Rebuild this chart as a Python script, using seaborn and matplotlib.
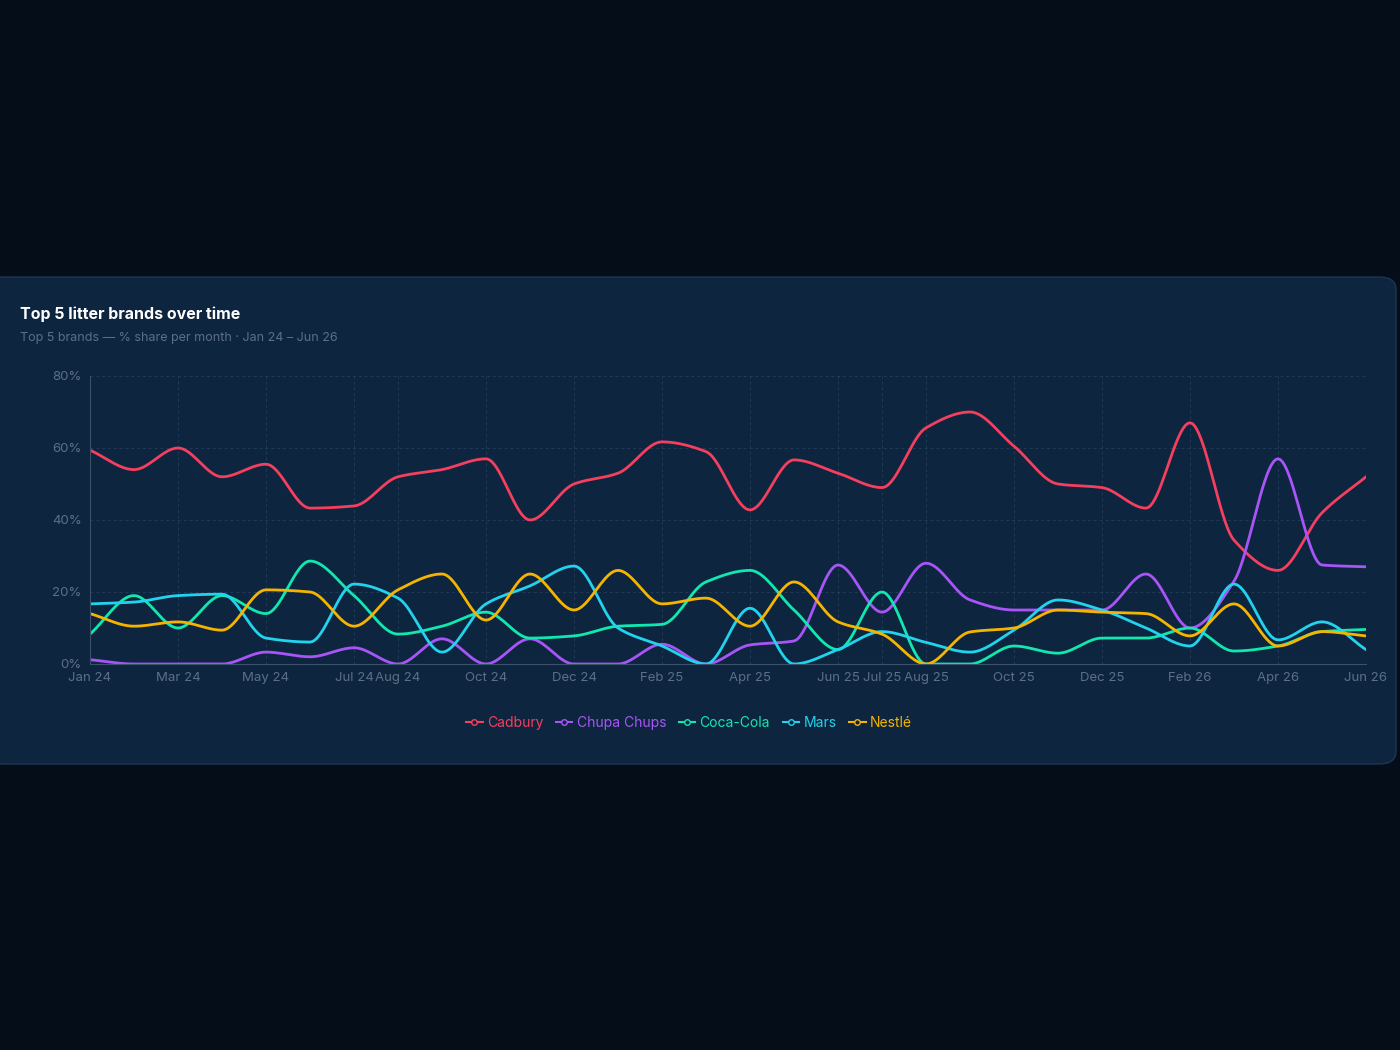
import numpy as np
import pandas as pd
import matplotlib
matplotlib.use("Agg")
import matplotlib.pyplot as plt
from matplotlib.patches import FancyBboxPatch
from matplotlib.lines import Line2D
import seaborn as sns

months = ["Jan 24","Feb 24","Mar 24","Apr 24","May 24","Jun 24","Jul 24","Aug 24","Sep 24","Oct 24",
          "Nov 24","Dec 24","Jan 25","Feb 25","Mar 25","Apr 25","May 25","Jun 25","Jul 25","Aug 25",
          "Sep 25","Oct 25","Nov 25","Dec 25","Jan 26","Feb 26","Mar 26","Apr 26","May 26","Jun 26"]
tick_labels = ["Jan 24","Mar 24","May 24","Jul 24","Aug 24","Oct 24","Dec 24","Feb 25","Apr 25",
               "Jun 25","Jul 25","Aug 25","Oct 25","Dec 25","Feb 26","Apr 26","Jun 26"]
cadbury = [59.4,54,60,52,55.5,43.3,43.9,52,54,57,40,50,53,61.7,59,42.8,56.7,53,49,65.6,
           70,60.5,50,49,43.3,67,34.4,26,42,52]
chupa = [1.2,0,0,0,3.3,2,4.5,0,7,0,7,0,0,5.5,0,5.3,6.4,27.5,14.4,28,
         17.8,15,15,15,25,10,23,57,27.5,27]
coca = [8.3,19,10,19,14,28.6,19,8.3,10.5,14.4,7.2,7.8,10.5,11,22.8,26,15,4,20,0,
        0,5,3,7.2,7.2,10,3.6,5,9,9.6]
mars = [16.7,17.2,19,19.4,7.2,6.1,22.2,18.3,3.3,16.7,21.7,27.2,10,5,0,15.5,0,4,9,6,
        3.3,9.4,17.8,15,10,5,22.2,6.7,11.7,4]
nestle = [14,10.5,11.7,9.4,20.6,20,10.5,20.6,25,12.2,25,15,26,16.7,18.3,10.5,22.8,11.7,8.3,0,
          8.9,10,15,14.4,14,7.8,16.7,5,9,7.8]
brands = ["Cadbury","Chupa Chups","Coca-Cola","Mars","Nestlé"]
colors = ["#f43f5e","#a855f7","#10e8b0","#22d3ee","#f5b400"]

plt.rcParams['font.family'] = ['Inter', 'DejaVu Sans']

def monotone(x, y, n=20):
    x = np.asarray(x, float); y = np.asarray(y, float)
    h = np.diff(x); d = np.diff(y) / h
    m = np.zeros_like(y)
    m[0], m[-1] = d[0], d[-1]
    for i in range(1, len(y) - 1):
        if d[i-1] * d[i] > 0:
            m[i] = (d[i-1] * d[i] * 2) / (d[i-1] + d[i])
    xs, ys = [], []
    for i in range(len(x) - 1):
        t = np.linspace(0, 1, n, endpoint=False)
        h00 = 2*t**3 - 3*t**2 + 1; h10 = t**3 - 2*t**2 + t
        h01 = -2*t**3 + 3*t**2; h11 = t**3 - t**2
        xs.append(x[i] + t*h[i])
        ys.append(h00*y[i] + h10*h[i]*m[i] + h01*y[i+1] + h11*h[i]*m[i+1])
    xs.append([x[-1]]); ys.append([y[-1]])
    return np.concatenate(xs), np.concatenate(ys)

frames = []
for b, vals in zip(brands, [cadbury, chupa, coca, mars, nestle]):
    xs, ys = monotone(range(len(months)), vals)
    frames.append(pd.DataFrame({"x": xs, "y": ys, "brand": b}))
df = pd.concat(frames)

bg = "#050d18"; card = "#0e2540"
fig = plt.figure(figsize=(14, 10.5), dpi=100, facecolor=bg)
fig.patches.append(FancyBboxPatch((-0.01, 1 - 764/1050), 1396/1400 + 0.01, 487/1050,
                                  boxstyle="round,pad=0,rounding_size=0.012",
                                  transform=fig.transFigure, facecolor=card,
                                  edgecolor="#1c3652", linewidth=1, zorder=-5))
ax = fig.add_axes([90/1400, 1 - 664/1050, (1366-90)/1400, (664-376)/1050])
ax.set_zorder(3)
ax.set_facecolor("none")
sns.lineplot(data=df, x="x", y="y", hue="brand", palette=dict(zip(brands, colors)),
             ax=ax, linewidth=2, legend=False, sort=False, estimator=None)
ax.set_xlim(0, 29)
ax.set_ylim(0, 80)
tick_pos = [months.index(t) for t in tick_labels]
ax.set_xticks(tick_pos)
ax.set_xticklabels(tick_labels)
ax.set_yticks([0, 20, 40, 60, 80])
ax.set_yticklabels(["0%", "20%", "40%", "60%", "80%"])
ax.tick_params(colors="#5d6f86", labelsize=9.5, length=0, pad=6)
ax.grid(True, color="#2a4360", linestyle=(0, (3, 3)), linewidth=0.7, alpha=0.7)
ax.set_xlabel(""); ax.set_ylabel("")
for s in ["top", "right"]:
    ax.spines[s].set_visible(False)
ax.spines["left"].set_color("#3a506b")
ax.spines["bottom"].set_color("#3a506b")

fig.text(20/1400, 1 - 314/1050, "Top 5 litter brands over time", color="white",
         fontsize=11.5, fontweight="bold", va="center")
fig.text(20/1400, 1 - 338/1050, "Top 5 brands — % share per month · Jan 24 – Jun 26",
         color="#5d6f86", fontsize=9, va="center")

handles = [Line2D([0], [0], color=c, lw=1.5, marker="o", markersize=4,
                  markerfacecolor=card, markeredgecolor=c) for c in colors]
leg = fig.legend(handles, brands, loc="center", bbox_to_anchor=(689/1400, 1 - 723/1050),
                 ncol=5, frameon=False, fontsize=10, handlelength=1.2,
                 handletextpad=0.3, columnspacing=0.9)
for t, c in zip(leg.get_texts(), colors):
    t.set_color(c)

fig.savefig("out.png", dpi=100, facecolor=bg)
